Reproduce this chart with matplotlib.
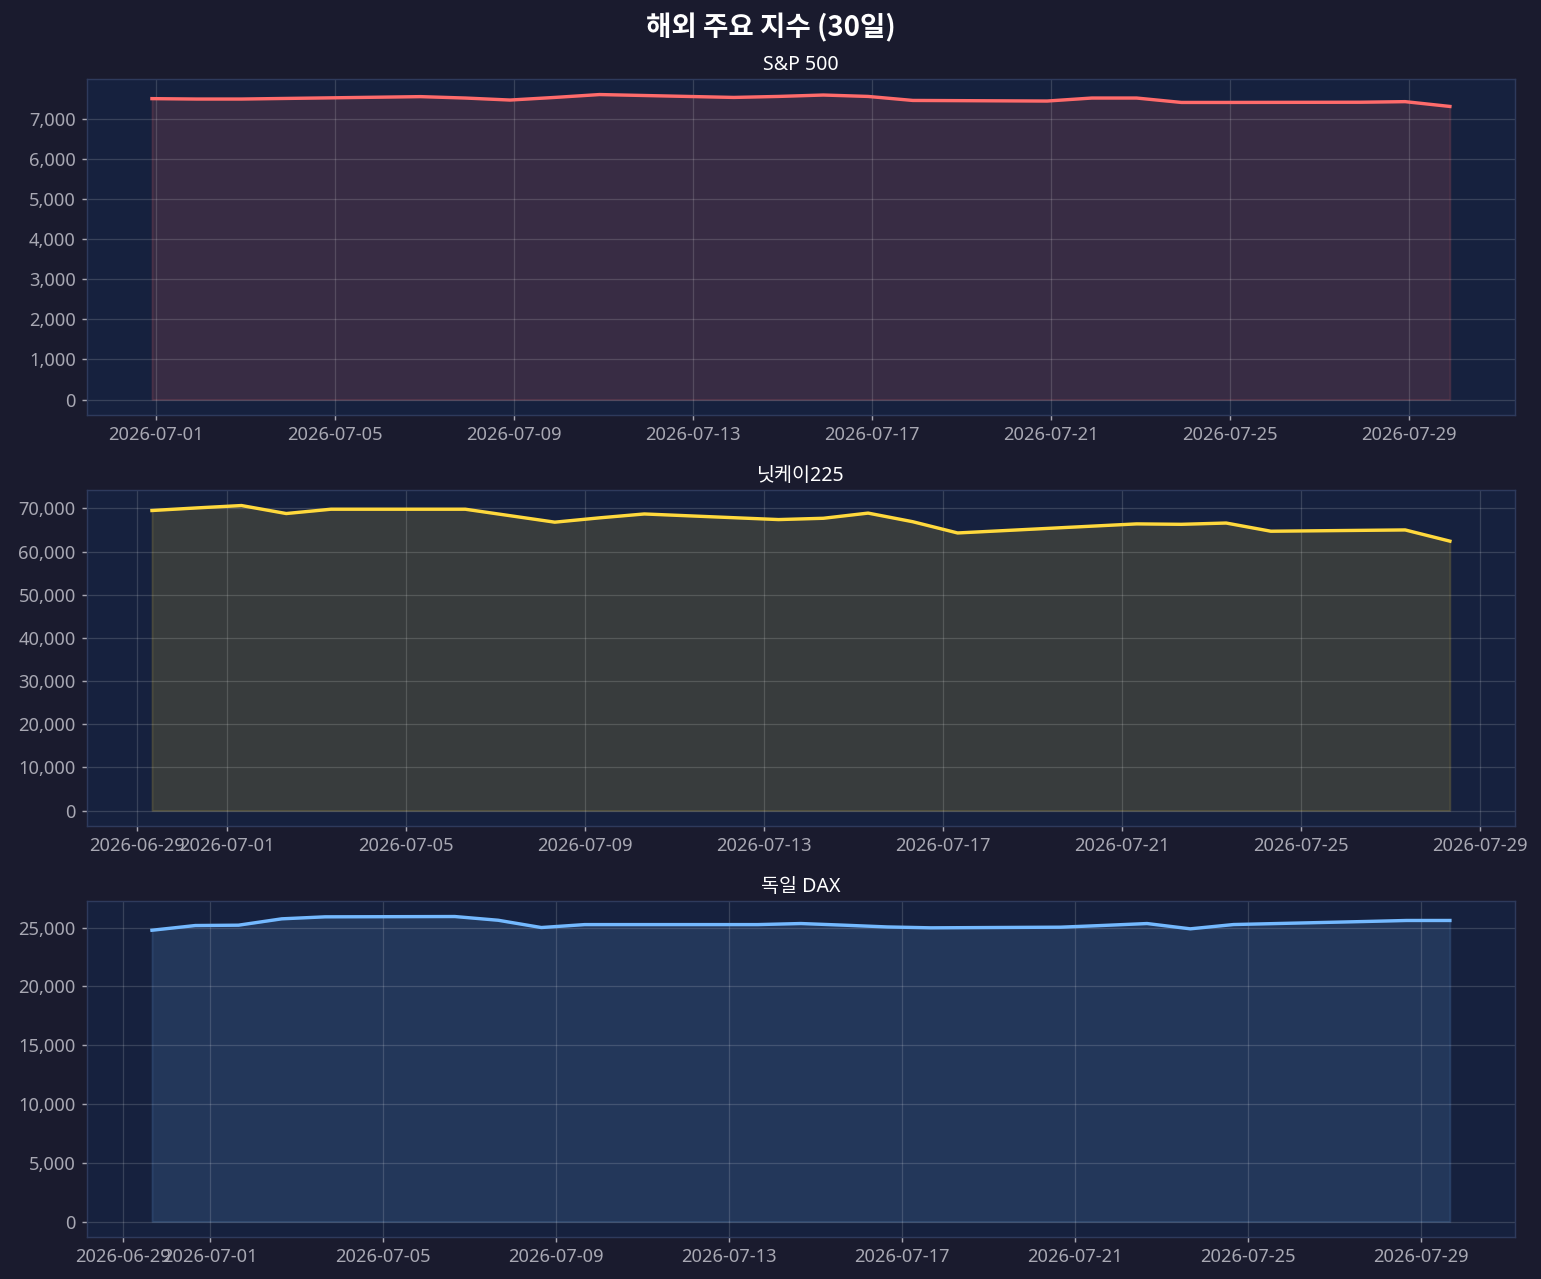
import pandas as pd
import numpy as np
import matplotlib
matplotlib.use('Agg')
import matplotlib.pyplot as plt
import matplotlib.ticker as mticker

plt.rcParams['font.family'] = ['Noto Sans', 'Noto Sans CJK KR', 'DejaVu Sans']

# ---- data ----
sp_dates = ['2026-07-01', '2026-07-02', '2026-07-03', '2026-07-07', '2026-07-08',
            '2026-07-09', '2026-07-10', '2026-07-11', '2026-07-14', '2026-07-15',
            '2026-07-16', '2026-07-17', '2026-07-18', '2026-07-21', '2026-07-22',
            '2026-07-23', '2026-07-24', '2026-07-25', '2026-07-28', '2026-07-29',
            '2026-07-30']
sp_vals = [7510, 7500, 7500, 7560, 7525, 7475, 7540, 7612, 7540, 7565,
           7600, 7565, 7465, 7450, 7525, 7525, 7415, 7415, 7420, 7435, 7315]

nk_dates = ['2026-06-29', '2026-06-30', '2026-07-01', '2026-07-02', '2026-07-03',
            '2026-07-06', '2026-07-07', '2026-07-08', '2026-07-09', '2026-07-10',
            '2026-07-13', '2026-07-14', '2026-07-15', '2026-07-16', '2026-07-17',
            '2026-07-21', '2026-07-22', '2026-07-23', '2026-07-24', '2026-07-27',
            '2026-07-28']
nk_vals = [69500, 70100, 70650, 68800, 69800, 69800, 68300, 66800, 67800, 68700,
           67400, 67700, 68900, 66900, 64300, 66400, 66300, 66600, 64700, 65000, 62400]

dax_dates = ['2026-06-29', '2026-06-30', '2026-07-01', '2026-07-02', '2026-07-03',
             '2026-07-06', '2026-07-07', '2026-07-08', '2026-07-09', '2026-07-10',
             '2026-07-13', '2026-07-14', '2026-07-15', '2026-07-16', '2026-07-17',
             '2026-07-20', '2026-07-21', '2026-07-22', '2026-07-23', '2026-07-24',
             '2026-07-27', '2026-07-28', '2026-07-29']
dax_vals = [24770, 25170, 25200, 25740, 25910, 25935, 25620, 25000, 25250, 25250,
            25250, 25340, 25200, 25050, 24975, 25030, 25180, 25340, 24890, 25255,
            25510, 25600, 25600]

# timestamp offsets (hours) seen in the reference x positions
series = [
    ('S&P 500', sp_dates, sp_vals, -2, '#ff6b6b'),
    ('닛케이225', nk_dates, nk_vals, 8, '#ffd93d'),
    ('독일 DAX', dax_dates, dax_vals, 16, '#74b9ff'),
]

BG = '#1a1b2e'
AX_BG = '#16213e'
TXT = '#a8a8b3'

fig, axes = plt.subplots(3, 1, figsize=(1541 / 128, 1279 / 128), dpi=128)
fig.patch.set_facecolor(BG)
fig.subplots_adjust(left=0.0565, right=0.983, top=0.938, bottom=0.033, hspace=0.225)

for ax, (name, dates, vals, hours, color) in zip(axes, series):
    x = pd.to_datetime(dates) + pd.Timedelta(hours=hours)
    ax.set_facecolor(AX_BG)
    ax.plot(x, vals, color=color, linewidth=1.9)
    ax.fill_between(x, vals, 0, color=color, alpha=0.15)
    ax.set_title(name, color='white', fontsize=11, pad=5)
    ax.grid(True, color='white', alpha=0.15, linewidth=0.7)
    ax.tick_params(colors=TXT, labelsize=10.3, length=2.8)
    for s in ax.spines.values():
        s.set_color('#2e3a5c')
    ax.yaxis.set_major_formatter(mticker.FuncFormatter(lambda v, p: f'{v:,.0f}'))

fig.suptitle('해외 주요 지수 (30일)', color='white', fontsize=15.5, fontweight='bold',
             family=['Noto Sans CJK KR', 'DejaVu Sans'], y=0.99)

plt.savefig('out.png', facecolor=BG)
